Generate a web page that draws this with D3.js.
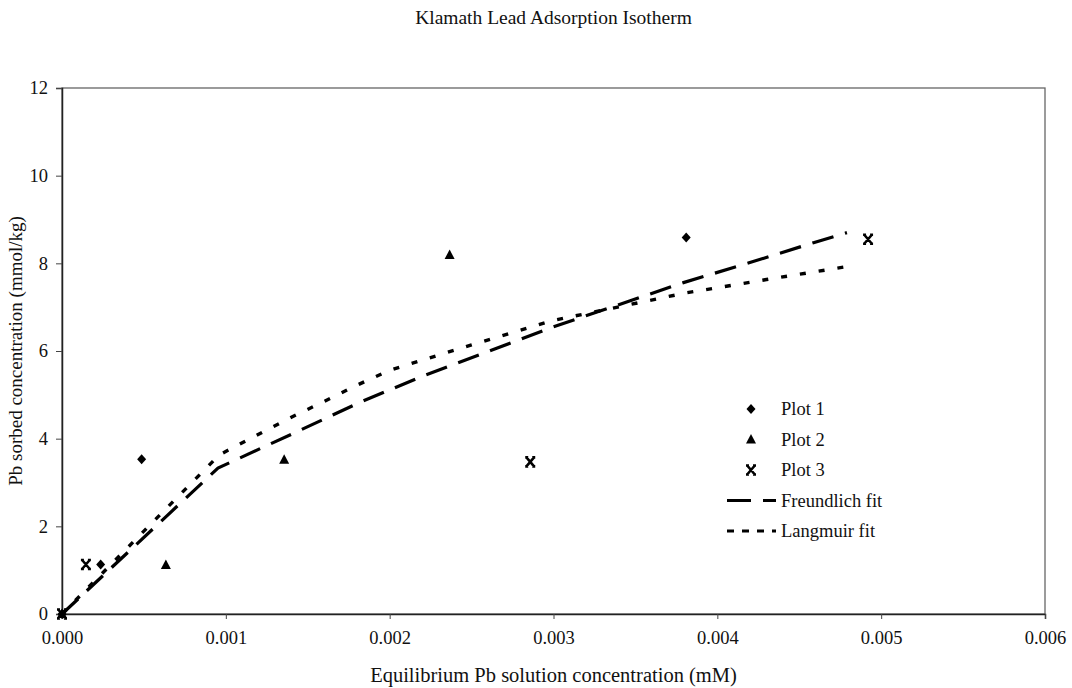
<!DOCTYPE html>
<html><head><meta charset="utf-8">
<script src="https://cdn.jsdelivr.net/npm/d3@7"></script>
<style>body{margin:0;background:#fff}text{font-family:"Liberation Serif","Times New Roman",serif;fill:#111}</style>
</head><body><svg id="c" width="1072" height="688"></svg>
<script>
const title = "Klamath Lead Adsorption Isotherm";
const xTitle = "Equilibrium Pb solution concentration (mM)";
const yTitle = "Pb sorbed concentration (mmol/kg)";
const xTicks = [0, 0.001, 0.002, 0.003, 0.004, 0.005, 0.006];
const yTicks = [0, 2, 4, 6, 8, 10, 12];

const plot1X = [0, 0.000236, 0.000486, 0.00381];
const plot1Y = [0, 1.13, 3.53, 8.59];
const plot2X = [0, 0.000634, 0.001356, 0.002366];
const plot2Y = [0, 1.12, 3.52, 8.19];
const plot3X = [0, 0.000146, 0.002858, 0.00492];
const plot3Y = [0, 1.13, 3.47, 8.55];

const freundX = [0, 0.000952, 0.001429, 0.001807, 0.002202, 0.002596, 0.00299, 0.003394, 0.003793, 0.004184, 0.004587, 0.004791];
const freundY = [0, 3.33, 4.15, 4.81, 5.43, 5.98, 6.54, 7.05, 7.56, 8.00, 8.47, 8.70];
const langX = [0, 0.00096, 0.0012, 0.0014, 0.0016, 0.0018, 0.002, 0.0025, 0.003, 0.0033, 0.0038, 0.0043, 0.004815];
const langY = [0, 3.63, 4.10, 4.49, 4.85, 5.22, 5.56, 6.14, 6.70, 6.93, 7.32, 7.63, 7.94];

const legendLabels = ["Plot 1", "Plot 2", "Plot 3", "Freundlich fit", "Langmuir fit"];

const svg = d3.select("#c");
const L = 62, R = 1045, T = 88, B = 614;
const x = d3.scaleLinear().domain([0, 0.006]).range([L, R]);
const y = d3.scaleLinear().domain([0, 12]).range([B, T]);

svg.append("text").attr("x", (L + R) / 2).attr("y", 24).attr("text-anchor", "middle")
  .style("font-size", "19.5px").text(title);

svg.append("rect").attr("x", L).attr("y", T).attr("width", R - L).attr("height", B - T)
  .attr("fill", "none").attr("stroke", "#666").attr("stroke-width", 1.3);

const xAxis = svg.append("g").attr("transform", `translate(0,${B})`)
  .call(d3.axisBottom(x).tickValues(xTicks).tickFormat(d3.format(".3f")).tickSize(5).tickPadding(12));
const yAxis = svg.append("g").attr("transform", `translate(${L},0)`)
  .call(d3.axisLeft(y).tickValues(yTicks).tickFormat(d3.format("d")).tickSize(6).tickPadding(8));
[xAxis, yAxis].forEach(g => {
  g.select(".domain").attr("stroke", "#222").attr("stroke-width", 1.5);
  g.selectAll(".tick line").attr("stroke", "#444");
  g.selectAll("text").style("font-size", "18.5px").style("font-family", '"Liberation Serif",serif').attr("fill", "#111");
});

svg.append("text").attr("x", (L + R) / 2).attr("y", 682).attr("text-anchor", "middle")
  .style("font-size", "20.5px").text(xTitle);
svg.append("text").attr("transform", `translate(22,${(T + B) / 2}) rotate(-90)`).attr("text-anchor", "middle")
  .style("font-size", "19px").text(yTitle);

const line = d3.line().x(d => x(d[0])).y(d => y(d[1]));
svg.append("path").datum(freundX.map((v, i) => [v, freundY[i]])).attr("d", line)
  .attr("fill", "none").attr("stroke", "#000").attr("stroke-width", 3.2).attr("stroke-dasharray", "22,12");
svg.append("path").datum(langX.map((v, i) => [v, langY[i]])).attr("d", line)
  .attr("fill", "none").attr("stroke", "#000").attr("stroke-width", 3.4).attr("stroke-dasharray", "6,13");

function diamond(g, cx, cy) {
  g.append("path").attr("d", `M${cx},${cy - 5}L${cx + 4.5},${cy}L${cx},${cy + 5}L${cx - 4.5},${cy}Z`).attr("fill", "#000");
}
function triangle(g, cx, cy) {
  g.append("path").attr("d", `M${cx},${cy - 5.5}L${cx + 5},${cy + 4}L${cx - 5},${cy + 4}Z`).attr("fill", "#000");
}
function xmark(g, cx, cy) {
  g.append("path").attr("d", `M${cx - 3.8},${cy - 4.5}L${cx + 3.8},${cy + 4.5}M${cx + 3.8},${cy - 4.5}L${cx - 3.8},${cy + 4.5}M${cx - 5},${cy - 4.5}H${cx - 2}M${cx + 2},${cy - 4.5}H${cx + 5}M${cx - 5},${cy + 4.5}H${cx - 2}M${cx + 2},${cy + 4.5}H${cx + 5}`)
    .attr("stroke", "#000").attr("stroke-width", 2.6).attr("fill", "none");
}
const pts = svg.append("g");
plot1X.forEach((v, i) => diamond(pts, x(v), y(plot1Y[i])));
plot2X.forEach((v, i) => triangle(pts, x(v), y(plot2Y[i])));
plot3X.forEach((v, i) => xmark(pts, x(v), y(plot3Y[i])));

const lg = svg.append("g");
const lx = 751, tx = 781, ly0 = 409, dy = 30.5;
legendLabels.forEach((lab, i) => {
  const yy = ly0 + i * dy;
  lg.append("text").attr("x", tx).attr("y", yy + 6).style("font-size", "18.5px").text(lab);
});
diamond(lg, lx, ly0);
triangle(lg, lx, ly0 + dy);
xmark(lg, lx, ly0 + 2 * dy);
lg.append("line").attr("x1", 727).attr("x2", 776).attr("y1", ly0 + 3 * dy).attr("y2", ly0 + 3 * dy)
  .attr("stroke", "#000").attr("stroke-width", 3.2).attr("stroke-dasharray", "24,12");
lg.append("line").attr("x1", 727).attr("x2", 776).attr("y1", ly0 + 4 * dy).attr("y2", ly0 + 4 * dy)
  .attr("stroke", "#000").attr("stroke-width", 3.2).attr("stroke-dasharray", "7,8");
</script></body></html>
